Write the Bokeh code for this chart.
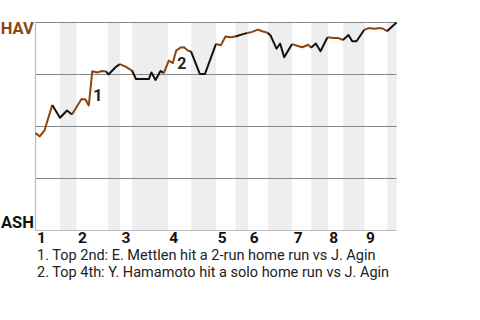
from bokeh.plotting import figure
from bokeh.models import Range1d
from bokeh.core.properties import value
from bokeh.embed import file_html
from bokeh.resources import INLINE

# ---- data -------------------------------------------------------------
# game progress (% of game) and HAV win probability (%) after each play
progress = [0.0, 1.19, 2.49, 4.63, 6.79, 8.73, 10.11, 12.74, 13.85, 14.76,
            15.73, 17.09, 18.48, 19.53, 20.22, 22.16, 23.35, 24.93, 26.73, 27.84,
            31.39, 32.13, 33.24, 34.63, 35.54, 36.93, 38.03, 38.98, 40.17, 41.14,
            42.19, 43.07, 45.51, 46.95, 50.0, 51.33, 52.63, 54.02, 55.35, 57.26,
            58.73, 60.03, 61.58, 62.80, 64.27, 65.10, 66.76, 67.76, 68.89, 71.05,
            72.49, 73.88, 75.57, 76.32, 77.65, 78.95, 80.89, 82.63, 83.93, 85.18,
            86.70, 87.73, 88.92, 91.08, 92.33, 93.71, 95.57, 96.32, 97.37, 100.0]
hav_wp = [46.8, 45.2, 48.1, 60.3, 54.2, 57.7, 55.8, 63.2, 63.0, 60.1,
          76.6, 76.0, 76.7, 76.5, 75.0, 78.5, 80.0, 78.8, 76.9, 72.8,
          72.8, 76.0, 72.4, 76.7, 75.7, 81.7, 80.5, 86.5, 88.0, 88.1,
          86.5, 86.1, 75.3, 75.3, 89.7, 89.1, 93.3, 92.9, 93.3, 94.3,
          95.0, 95.5, 96.6, 95.8, 95.1, 93.8, 87.4, 89.9, 83.3, 89.6,
          88.8, 88.1, 89.3, 87.9, 89.9, 86.2, 92.9, 92.5, 92.5, 91.6,
          94.0, 91.0, 91.0, 96.5, 97.3, 97.0, 97.3, 97.0, 95.8, 100.0]
# half-inning boundaries (% of game): top 1st, bottom 1st, top 2nd, ...
half_bounds = [0.0, 6.73, 11.36, 20.03, 23.41, 26.79, 36.65, 43.13, 50.06,
               55.40, 58.92, 64.35, 71.11, 76.37, 80.97, 85.24, 91.14, 97.42, 100.0]
innings = ["1", "2", "3", "4", "5", "6", "7", "8", "9"]
team_top, team_bottom = "HAV", "ASH"
grid_levels = [25, 50, 75, 100]
note_events = [10, 27]
note_marks = ["1", "2"]
notes = ["1. Top 2nd: E. Mettlen hit a 2-run home run vs J. Agin",
         "2. Top 4th: Y. Hamamoto hit a solo home run vs J. Agin"]

# ---- layout constants (screen) -----------------------------------------
W, H = 480, 320
LEFT_PX, RIGHT_PX, TOP_PX, BOT_PX = 35, 396, 22, 230
sx = (RIGHT_PX - LEFT_PX) / 100.0
sy = (BOT_PX - TOP_PX) / 100.0

BROWN = "#8B4513"
INK = "#111111"
FONT = value("Roboto")

p = figure(width=W, height=H, output_backend="svg", toolbar_location=None,
           x_range=Range1d(-LEFT_PX / sx, (W - LEFT_PX) / sx),
           y_range=Range1d((BOT_PX - H) / sy, BOT_PX / sy),
           min_border=0, min_border_left=0, min_border_right=0,
           min_border_top=0, min_border_bottom=0)
p.axis.visible = False
p.grid.visible = False
p.outline_line_color = None
p.background_fill_color = "white"
p.border_fill_color = "white"

# shaded bottom halves
lefts = half_bounds[1::2]
rights = half_bounds[2::2]
p.quad(left=lefts, right=rights, bottom=0, top=100,
       fill_color="#eeeeee", line_color=None)

# horizontal reference lines
p.segment(x0=[0] * len(grid_levels), x1=[100] * len(grid_levels),
          y0=grid_levels, y1=grid_levels, line_color="#888888", line_width=1.2)
# left and bottom edges
p.segment(x0=[0, 0], x1=[0, 100], y0=[0, 0], y1=[100, 0],
          line_color="#bbbbbb", line_width=1.2)

# win probability line, coloured by half-inning
xs, ys, cols = [], [], []
for h in range(len(half_bounds) - 1):
    lo, hi = half_bounds[h], half_bounds[h + 1]
    idx = [i for i, x in enumerate(progress) if (lo < x <= hi) or (h == 0 and x == lo)]
    if not idx:
        continue
    if idx[0] > 0:
        idx = [idx[0] - 1] + idx
    xs.append([progress[i] for i in idx])
    ys.append([hav_wp[i] for i in idx])
    cols.append(BROWN if h % 2 == 0 else INK)
p.multi_line(xs=xs, ys=ys, line_color=cols, line_width=2, line_join="round")

# event markers
mx = [progress[e] for e in note_events]
my = [(hav_wp[e - 1] + hav_wp[e]) / 2 for e in note_events]
p.text(x=mx, y=my, text=note_marks, x_offset=1, y_offset=6.5,
       text_font=FONT, text_font_style="bold", text_font_size="16px",
       text_color="#222222", text_baseline="middle", text_align="left")

# team labels
p.text(x=[0, 0], y=[100, 0], text=[team_top, team_bottom],
       x_offset=-1.7, y_offset=[6.3, -8], text_align="right",
       text_baseline="middle", text_font=FONT, text_font_style="bold",
       text_font_size="16.5px", text_color=[BROWN, INK])

# inning labels at the start of each inning
inning_x = half_bounds[0:-1:2]
p.text(x=inning_x, y=[0] * len(innings), text=innings, x_offset=1.5, y_offset=6.5,
       text_align="left", text_baseline="middle", text_font=FONT,
       text_font_style="bold", text_font_size="15.5px", text_color=INK)

# footnotes
p.text(x=[0] * len(notes), y=[0] * len(notes), text=notes, x_offset=1.5,
       y_offset=[25.0 + 17 * i for i in range(len(notes))],
       text_align="left", text_baseline="middle", text_font=FONT,
       text_font_size="14.5px", text_color="#222222")

open("out.html", "w").write(file_html(p, INLINE))
